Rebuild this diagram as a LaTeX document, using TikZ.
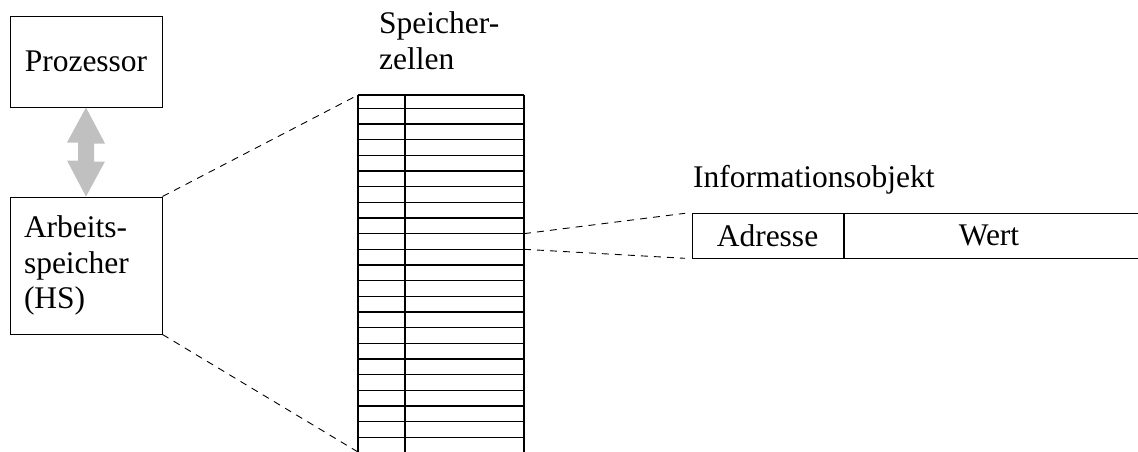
\documentclass[tikz,border=0pt]{standalone}
\usepackage{fontspec}
\setmainfont{Liberation Serif}
\definecolor{arrowgray}{RGB}{192,192,192}
\begin{document}
\begin{tikzpicture}[x=1pt,y=-1pt,
  every node/.style={font=\fontsize{31.5}{35.5}\selectfont, inner sep=0pt},
  box/.style={draw, line width=1pt},
  cellrule/.style={line width=1.4pt},
  link/.style={dash pattern=on 7pt off 6pt, line width=0.9pt}]
\useasboundingbox (0,0) rectangle (1138,451);
\clip (0,0) rectangle (1138,451);

% processor and main memory
\node[box, minimum width=152pt, minimum height=91pt] (proc) at (86,61.5) {Prozessor};
\node[box, minimum width=152pt, minimum height=137pt, align=left, text width=124pt] (mem) at (86,265.5)
  {Arbeits-\\speicher\\(HS)};

% bus between them
\fill[arrowgray] (proc.south) -- ++(19,36) -- ++(-11,0) -- ++(0,18) -- ++(11,0) -- (mem.north)
  -- ++(-19,-36) -- ++(11,0) -- ++(0,-18) -- ++(-11,0) -- cycle;

% column of memory cells
\node[anchor=north west, align=left] (celltitle) at (379,11.5) {Speicher-\\zellen};
\coordinate (tbl nw) at (358,95);
\coordinate (tbl sw) at (358,452);
\draw[cellrule] (358,95) -- (524,95);
\foreach \x in {358,405,524} \draw[cellrule] (\x,95) -- (\x,460);
\foreach \k in {0,...,21} {
  \draw[cellrule] (358,108.3+15.667*\k) -- (524,108.3+15.667*\k);
  \coordinate (row\k) at (524,108.3+15.667*\k);
}

% zoom from the memory to its cells
\draw[link] (mem.north east) -- (tbl nw);
\draw[link] (mem.south east) -- (tbl sw);

% one information object
\node[anchor=base west] (objtitle) at (693,187) {Informationsobjekt};
\node[box, minimum width=151pt, minimum height=45pt] (addr) at (767.5,235.7) {Adresse};
\node[box, minimum width=320pt, minimum height=45pt, anchor=west] (wertcell) at (addr.east) {};
\node (wert) at (989,235.7) {Wert};
\coordinate (obj in top) at (685,213.3);
\coordinate (obj in bot) at (685,258.3);
\draw[link] (row8) -- (obj in top);
\draw[link] (row9) -- (obj in bot);
\end{tikzpicture}
\end{document}
